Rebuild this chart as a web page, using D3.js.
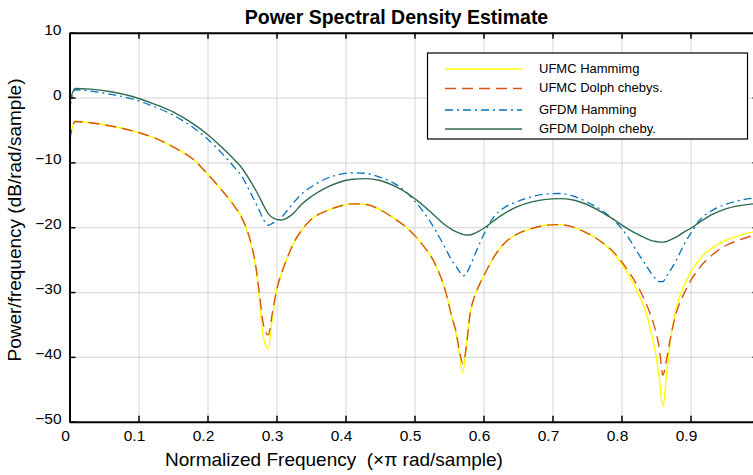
<!DOCTYPE html>
<html>
<head>
<meta charset="utf-8">
<script src="https://cdn.jsdelivr.net/npm/d3@7"></script>
<style>
  body { margin: 0; background: #fff; }
  svg { display: block; font-family: "Liberation Sans", Arial, Helvetica, sans-serif; }
</style>
</head>
<body>
<svg id="chart" width="753" height="475"></svg>
<script>
// normalized frequency (x pi rad/sample)
const freq = [0, 0.008, 0.03, 0.06, 0.09, 0.12, 0.15, 0.18, 0.2, 0.22,
  0.24, 0.25, 0.26, 0.27, 0.275, 0.281, 0.288, 0.294, 0.3, 0.307,
  0.315, 0.325, 0.335, 0.35, 0.37, 0.39, 0.41, 0.43, 0.45, 0.47,
  0.49, 0.51, 0.53, 0.545, 0.555, 0.56, 0.565, 0.57, 0.575, 0.58,
  0.59, 0.6, 0.615, 0.63, 0.65, 0.67, 0.69, 0.71, 0.73, 0.75,
  0.77, 0.79, 0.81, 0.825, 0.835, 0.845, 0.85, 0.855, 0.86, 0.865,
  0.87, 0.88, 0.89, 0.9, 0.915, 0.93, 0.95, 0.97, 1.0];

// dB/rad/sample
const ufmcHamming = [-6.7, -3.7, -3.9, -4.4, -5.1, -6.1, -7.6, -9.6, -11.8, -14.2,
  -16.9, -18.6, -21.4, -26.4, -30.8, -37.0, -38.7, -34.0, -29.8, -27.2,
  -24.9, -22.4, -20.7, -18.8, -17.6, -16.8, -16.4, -16.5, -17.3, -18.6,
  -20.2, -22.5, -25.7, -29.9, -34.2, -36.3, -39.5, -42.5, -38.2, -33.8,
  -29.9, -27.6, -24.6, -22.5, -21.0, -20.2, -19.7, -19.6, -20.0, -20.9,
  -22.2, -24.2, -27.3, -30.4, -33.0, -37.2, -39.8, -43.6, -47.7, -43.0,
  -38.2, -32.2, -29.2, -27.0, -24.7, -23.3, -22.1, -21.3, -20.5];

const ufmcDolph = [-6.7, -3.7, -3.9, -4.4, -5.1, -6.1, -7.6, -9.6, -11.8, -14.2,
  -16.9, -18.6, -21.3, -26.0, -30.0, -35.0, -36.6, -33.2, -29.8, -27.2,
  -24.9, -22.4, -20.7, -18.8, -17.6, -16.8, -16.4, -16.5, -17.3, -18.6,
  -20.2, -22.5, -25.7, -29.9, -34.2, -36.0, -39.0, -41.0, -38.6, -33.8,
  -29.9, -27.6, -24.6, -22.5, -21.0, -20.2, -19.7, -19.6, -20.0, -20.9,
  -22.2, -24.0, -26.8, -29.4, -31.6, -34.4, -36.2, -38.8, -42.8, -40.6,
  -37.6, -33.0, -30.4, -28.3, -26.0, -24.4, -22.9, -22.0, -21.0];

const gfdmHamming = [-1.8, 1.2, 1.0, 0.5, -0.2, -1.3, -2.7, -4.7, -6.4, -8.5,
  -10.9, -12.2, -14.2, -16.3, -17.4, -18.8, -19.7, -19.4, -19.0, -18.5,
  -17.5, -16.2, -15.0, -13.8, -12.6, -11.9, -11.6, -11.7, -12.3, -13.2,
  -14.8, -17.2, -20.4, -23.3, -25.3, -26.0, -26.8, -27.5, -27.2, -26.1,
  -23.6, -21.2, -18.4, -17.0, -16.0, -15.3, -14.9, -14.8, -15.2, -16.1,
  -17.3, -19.0, -21.6, -24.2, -25.8, -27.4, -28.0, -28.4, -28.4, -27.6,
  -26.8, -25.0, -22.8, -21.0, -18.7, -17.5, -16.5, -15.9, -15.4];

const gfdmDolph = [-0.8, 1.4, 1.3, 0.9, 0.2, -0.9, -2.2, -4.1, -5.7, -7.6,
  -9.7, -10.9, -12.5, -14.3, -15.3, -16.6, -17.9, -18.5, -18.8, -18.9,
  -18.6, -17.8, -16.6, -15.3, -14.0, -13.1, -12.6, -12.5, -12.8, -13.6,
  -14.8, -16.4, -18.3, -19.7, -20.4, -20.7, -20.9, -21.1, -21.2, -21.2,
  -20.8, -20.2, -19.0, -17.9, -16.8, -16.1, -15.7, -15.6, -15.8, -16.5,
  -17.6, -18.9, -20.3, -21.2, -21.7, -22.1, -22.2, -22.3, -22.3, -22.2,
  -22.0, -21.5, -20.8, -20.2, -19.1, -18.1, -17.2, -16.7, -16.3];

const xTicks = [0, 0.1, 0.2, 0.3, 0.4, 0.5, 0.6, 0.7, 0.8, 0.9];
const yTicks = [10, 0, -10, -20, -30, -40, -50];
const legendNames = ["UFMC Hammimg", "UFMC Dolph chebys.", "GFDM Hamming", "GFDM Dolph cheby."];

const svg = d3.select("#chart");
svg.append("rect").attr("width", 753).attr("height", 475).attr("fill", "#fff");

const x = d3.scaleLinear().domain([0, 1]).range([69.5, 759.5]);
const y = d3.scaleLinear().domain([-50, 10]).range([421.7, 32.7]);
const plotH = y(-50) - y(10);
const plotW = x(1) - x(0);

// grid
svg.append("g")
  .attr("transform", `translate(0,${y(-50)})`)
  .call(d3.axisBottom(x).tickValues(xTicks.slice(1)).tickSize(-plotH).tickFormat(""))
  .call(g => g.select(".domain").remove())
  .call(g => g.selectAll("line").attr("stroke", "#dcdcdc").attr("stroke-width", 1.2));
svg.append("g")
  .attr("transform", `translate(${x(0)},0)`)
  .call(d3.axisLeft(y).tickValues(yTicks.slice(1, -1)).tickSize(-plotW).tickFormat(""))
  .call(g => g.select(".domain").remove())
  .call(g => g.selectAll("line").attr("stroke", "#dcdcdc").attr("stroke-width", 1.2));

// lines
const series = [
  { values: ufmcHamming, color: "#FFFF00", dash: null, width: 1.4 },
  { values: ufmcDolph, color: "#D95319", dash: "11,6", width: 1.4 },
  { values: gfdmHamming, color: "#0072BD", dash: "8,4,2,4", width: 1.3 },
  { values: gfdmDolph, color: "#2E6B4F", dash: null, width: 1.4 }
];

const line = d3.line()
  .x((d, i) => x(freq[i]))
  .y(d => y(d))
  .curve(d3.curveMonotoneX);

series.forEach(s => {
  svg.append("path")
    .datum(s.values)
    .attr("fill", "none")
    .attr("stroke", s.color)
    .attr("stroke-width", s.width)
    .attr("stroke-dasharray", s.dash)
    .attr("d", line);
});

// axes
function styleAxis(g) {
  g.select(".domain").attr("stroke", "#000").attr("stroke-width", 2);
  g.selectAll(".tick line").attr("stroke", "#000").attr("stroke-width", 1.5);
  g.selectAll("text").attr("fill", "#000").attr("font-size", "15.5px").attr("font-family", null);
}

svg.append("g")
  .attr("transform", `translate(0,${y(-50)})`)
  .call(d3.axisBottom(x).tickValues(xTicks).tickSizeInner(-6).tickSizeOuter(0).tickPadding(8)
    .tickFormat(d => d === 0 ? "0" : d3.format(".1f")(d)))
  .call(styleAxis)
  .call(g => g.selectAll("text").attr("x", -4.5));

svg.append("g")
  .attr("transform", `translate(0,${y(10)})`)
  .call(d3.axisTop(x).tickValues(xTicks).tickSizeInner(-6).tickSizeOuter(0).tickFormat(""))
  .call(styleAxis);

svg.append("g")
  .attr("transform", `translate(${x(0)},0)`)
  .call(d3.axisLeft(y).tickValues(yTicks).tickSizeInner(-6).tickSizeOuter(0).tickPadding(8))
  .call(styleAxis)
  .call(g => g.selectAll("text").attr("y", -3.5));

svg.append("g")
  .attr("transform", `translate(${x(1)},0)`)
  .call(d3.axisRight(y).tickValues(yTicks).tickSizeInner(-7).tickSizeOuter(0).tickFormat(""))
  .call(styleAxis);

// title and labels
svg.append("text")
  .attr("x", 396.5).attr("y", 24)
  .attr("text-anchor", "middle")
  .attr("font-size", "19.5px").attr("font-weight", "bold")
  .text("Power Spectral Density Estimate");

svg.append("text")
  .attr("x", 334).attr("y", 466)
  .attr("text-anchor", "middle")
  .attr("font-size", "19px")
  .style("white-space", "pre")
  .text("Normalized Frequency  (\u00d7\u03c0 rad/sample)");

svg.append("text")
  .attr("transform", "translate(21,220) rotate(-90)")
  .attr("text-anchor", "middle")
  .attr("font-size", "19px")
  .text("Power/frequency (dB/rad/sample)");

// legend
const legend = svg.append("g");
legend.append("rect")
  .attr("x", 427.5).attr("y", 53).attr("width", 320).attr("height", 86)
  .attr("fill", "#fff").attr("stroke", "#000").attr("stroke-width", 1.2);

const rowY = [68, 87.5, 109, 128];
series.forEach((s, i) => {
  legend.append("line")
    .attr("x1", 445).attr("x2", 522)
    .attr("y1", rowY[i] + 1).attr("y2", rowY[i] + 1)
    .attr("stroke", s.color)
    .attr("stroke-width", s.width)
    .attr("stroke-dasharray", s.dash);
  legend.append("text")
    .attr("x", 539).attr("y", rowY[i])
    .attr("dy", "0.35em")
    .attr("font-size", "13px")
    .text(legendNames[i]);
});
</script>
</body>
</html>
